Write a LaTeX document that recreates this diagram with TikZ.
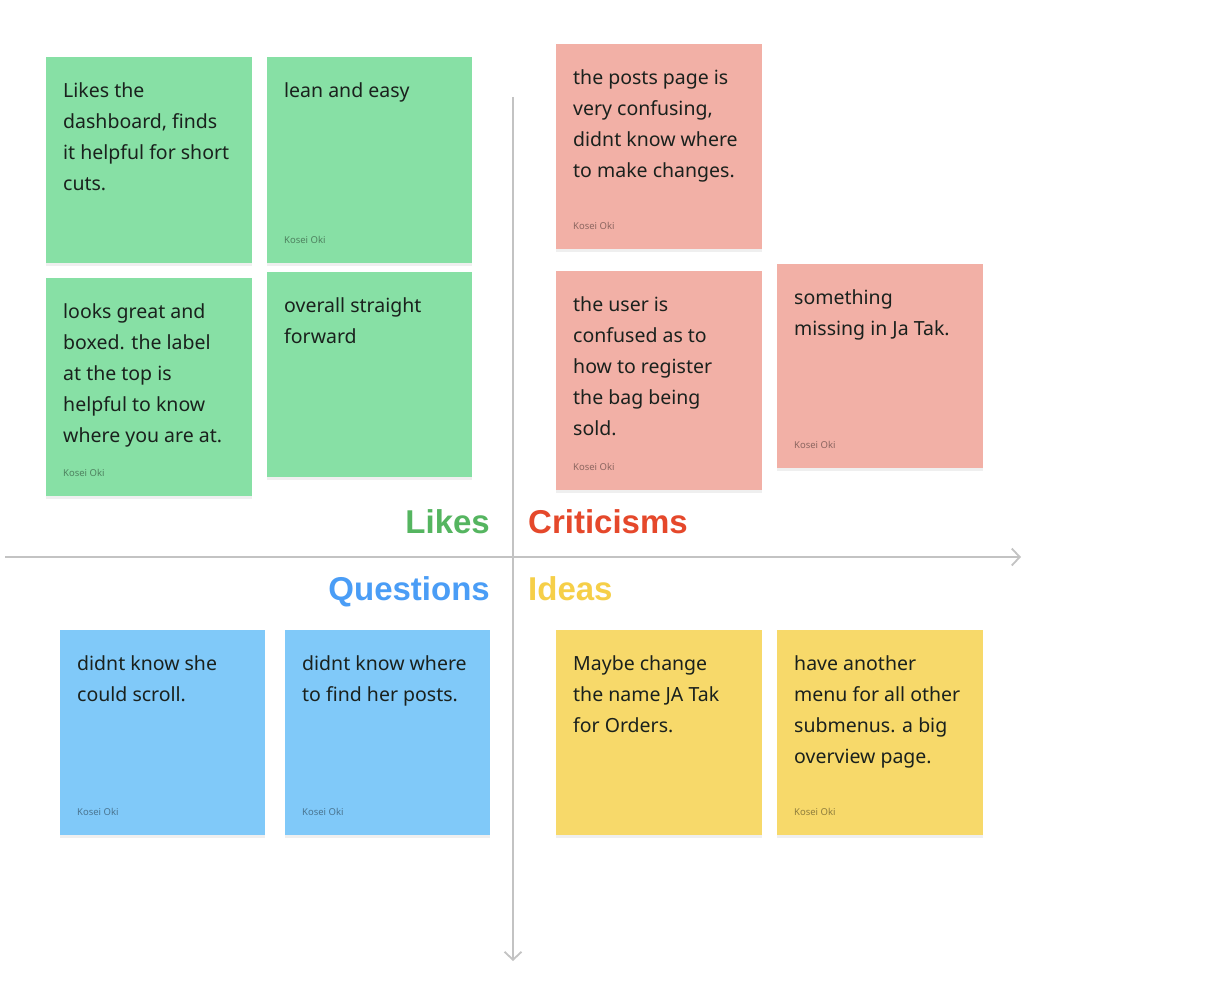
\documentclass[tikz,border=0pt]{standalone}
\usepackage{fontspec}
\setmainfont{Noto Sans}
\newfontfamily\headfont{Liberation Sans}
\usetikzlibrary{arrows.meta,shadows}

\definecolor{notegreen}{HTML}{87E0A5}
\definecolor{notered}{HTML}{F2B0A6}
\definecolor{noteblue}{HTML}{80C9F9}
\definecolor{noteyellow}{HTML}{F7D96A}
\definecolor{headgreen}{HTML}{55B560}
\definecolor{headred}{HTML}{E5482B}
\definecolor{headblue}{HTML}{4A9DF6}
\definecolor{headyellow}{HTML}{F6CF48}
\definecolor{notetext}{HTML}{1A211D}
\definecolor{axisgray}{HTML}{C3C3C3}

\tikzset{
  stickybox/.style={rectangle, inner sep=0pt, anchor=north west,
    drop shadow={shadow xshift=0pt, shadow yshift=-3pt, opacity=0.12}},
  stickytext/.style={anchor=north west, inner sep=0pt, align=left,
    text=notetext, font=\fontsize{19.5}{31}\selectfont},
  stickyauthor/.style={anchor=base west, inner sep=0pt,
    text=black, text opacity=0.42, font=\fontsize{9.5}{11}\selectfont},
  heading/.style={inner sep=0pt, font=\headfont\fontsize{33}{36}\selectfont\bfseries},
  axisline/.style={draw=axisgray, line width=1.8pt,
    -{Straight Barb[length=8pt, width=17pt, line width=1.8pt]}},
}

% \stickynote{name}{x}{y}{width}{height}{colour}{text}
\newcommand\stickynote[7]{%
  \node[stickybox, fill=#6, minimum width=#4pt, minimum height=#5pt] (#1) at (#2,#3) {};
  \node[stickytext] (#1-text) at ([shift={(17,19)}]#1.north west) {\strut #7};
}
% \stickysign{name}
\newcommand\stickysign[1]{%
  \node[stickyauthor] (#1-author) at ([shift={(17,-20)}]#1.south west) {Kosei Oki};
}

\begin{document}
\begin{tikzpicture}[x=1pt, y=-1pt]
\useasboundingbox[fill=white] (0,0) rectangle (1220,992);

% axes
\coordinate (hleft) at (5,557);
\coordinate (hright) at (1021,557);
\coordinate (vtop) at (513,97);
\coordinate (vbottom) at (513,961);
\draw[axisline] (hleft) -- (hright);
\draw[axisline] (vtop) -- (vbottom);

% quadrant headings
\node[heading, text=headgreen, anchor=base east] (likes) at (490,533) {Likes};
\node[heading, text=headred, anchor=base west] (criticisms) at (528,533) {Criticisms};
\node[heading, text=headblue, anchor=base east] (questions) at (490,600) {Questions};
\node[heading, text=headyellow, anchor=base west] (ideas) at (528,600) {Ideas};

% likes
\stickynote{g1}{46}{57}{206}{206}{notegreen}{Likes the\\dashboard, finds\\it helpful for short\\cuts.}
\stickynote{g2}{267}{57}{205}{206}{notegreen}{lean and easy}
\stickysign{g2}
\stickynote{g3}{46}{278}{206}{218}{notegreen}{looks great and\\boxed. the label\\at the top is\\helpful to know\\where you are at.}
\stickysign{g3}
\stickynote{g4}{267}{272}{205}{205}{notegreen}{overall straight\\forward}

% criticisms
\stickynote{r1}{556}{44}{206}{205}{notered}{the posts page is\\very confusing,\\didnt know where\\to make changes.}
\stickysign{r1}
\stickynote{r2}{556}{271}{206}{219}{notered}{the user is\\confused as to\\how to register\\the bag being\\sold.}
\stickysign{r2}
\stickynote{r3}{777}{264}{206}{204}{notered}{something\\missing in Ja Tak.}
\stickysign{r3}

% questions
\stickynote{b1}{60}{630}{205}{205}{noteblue}{didnt know she\\could scroll.}
\stickysign{b1}
\stickynote{b2}{285}{630}{205}{205}{noteblue}{didnt know where\\to find her posts.}
\stickysign{b2}

% ideas
\stickynote{y1}{556}{630}{206}{205}{noteyellow}{Maybe change\\the name JA Tak\\for Orders.}
\stickynote{y2}{777}{630}{206}{205}{noteyellow}{have another\\menu for all other\\submenus. a big\\overview page.}
\stickysign{y2}
\end{tikzpicture}
\end{document}
